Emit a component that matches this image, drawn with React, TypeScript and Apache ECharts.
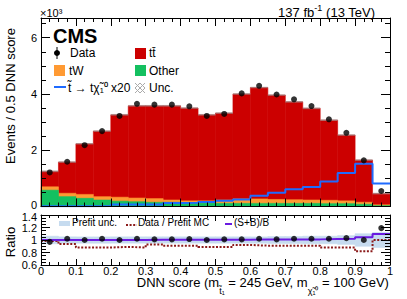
import React, { useEffect, useRef } from 'react';
import * as echarts from 'echarts';

// ---- data (event counts in units of 10^3) ----
const binEdges = [0, 0.05, 0.1, 0.15, 0.2, 0.25, 0.3, 0.35, 0.4, 0.45, 0.5, 0.55, 0.6, 0.65, 0.7, 0.75, 0.8, 0.85, 0.9, 0.95, 1];
const ttbar = [0.55, 1.11, 1.80, 2.33, 2.93, 3.28, 3.30, 3.35, 3.30, 3.06, 3.09, 3.73, 3.96, 3.71, 3.48, 3.26, 2.85, 2.34, 1.50, 0.40];
const tW = [0.12, 0.12, 0.14, 0.12, 0.14, 0.13, 0.13, 0.08, 0.07, 0.08, 0.12, 0.16, 0.16, 0.14, 0.13, 0.12, 0.12, 0.10, 0.07, 0.03];
const other = [0.58, 0.35, 0.29, 0.23, 0.19, 0.17, 0.15, 0.15, 0.13, 0.12, 0.11, 0.11, 0.11, 0.11, 0.11, 0.11, 0.10, 0.10, 0.08, 0.03];
const dataObs = [1.21, 1.59, 2.18, 2.68, 3.22, 3.65, 3.62, 3.62, 3.56, 3.22, 3.29, 4.02, 4.29, 3.98, 3.81, 3.57, 3.10, 2.62, 1.64, 0.55];
const signalX20 = [0.01, 0.01, 0.01, 0.02, 0.07, 0.07, 0.07, 0.12, 0.13, 0.16, 0.20, 0.25, 0.38, 0.49, 0.61, 0.69, 0.89, 1.19, 1.52, 0.82];
const mcUnc = [0.03, 0.03, 0.03, 0.03, 0.03, 0.03, 0.03, 0.03, 0.03, 0.03, 0.03, 0.03, 0.03, 0.03, 0.03, 0.03, 0.03, 0.03, 0.03, 0.03];

const ratioData = [0.97, 1.02, 1.0, 1.02, 1.0, 1.02, 1.01, 1.01, 1.015, 1.0, 1.01, 1.01, 1.02, 1.01, 1.02, 1.02, 1.02, 1.03, 1.0, 1.19];
const prefitRatio = [0.985, 0.935, 0.88, 0.88, 0.89, 0.88, 0.93, 0.91, 0.91, 0.89, 0.89, 0.92, 0.91, 0.91, 0.91, 0.91, 0.88, 0.88, 0.82, 1.0];
const sbRatio = [1.0, 1.0, 1.0, 1.0, 1.0, 1.0, 1.005, 1.005, 1.005, 1.005, 1.005, 1.005, 1.01, 1.01, 1.01, 1.01, 1.015, 1.02, 1.045, 1.095];
const prefitUnc = [0.06, 0.05, 0.05, 0.05, 0.05, 0.05, 0.05, 0.05, 0.05, 0.05, 0.05, 0.05, 0.05, 0.055, 0.055, 0.06, 0.06, 0.07, 0.10, 0.12];

const FONT = '"Liberation Sans", Arial, Helvetica, sans-serif';
const C_TT = '#cc0000';
const C_TW = '#ff9a33';
const C_OTHER = '#14c060';
const C_SIG = '#1f6bff';
const C_SB = '#6a1be0';
const C_PRE = '#8b1a1a';
const C_BAND = '#c6dbef';

function rectSeries(name: string, lows: number[], highs: number[], color: string, xi: number, yi: number, z: number, opacity = 1) {
  return {
    type: 'custom',
    name,
    xAxisIndex: xi,
    yAxisIndex: yi,
    z,
    silent: true,
    encode: { x: [0, 1], y: [2, 3] },
    data: highs.map((h, i) => [binEdges[i], binEdges[i + 1], lows[i], h]),
    renderItem: (_p: any, api: any) => {
      const a = api.coord([api.value(0), api.value(3)]);
      const b = api.coord([api.value(1), api.value(2)]);
      return {
        type: 'rect',
        shape: { x: a[0], y: a[1], width: b[0] - a[0], height: b[1] - a[1] },
        style: { fill: color, stroke: color, lineWidth: opacity < 1 ? 0 : 0.6, opacity },
      };
    },
  };
}

function stepSeries(vals: number[], color: string, xi: number, yi: number, width: number, type: any, z: number) {
  return {
    type: 'line',
    xAxisIndex: xi,
    yAxisIndex: yi,
    step: 'end',
    symbol: 'none',
    z,
    silent: true,
    data: binEdges.map((e, i) => [e, vals[Math.min(i, vals.length - 1)]]),
    lineStyle: { color, width, type },
  };
}

const zeros = binEdges.slice(0, -1).map(() => 0);
const centers = binEdges.slice(0, -1).map((e, i) => (e + binEdges[i + 1]) / 2);

function xAx(grid: number, pos: string, labels: boolean) {
  return {
    type: 'value', gridIndex: grid, position: pos, min: 0, max: 1, interval: 0.1, z: 10,
    axisLine: { show: true, onZero: false, lineStyle: { color: '#000', width: 1 } },
    axisTick: { show: true, inside: true, length: grid === 0 ? 8 : 6, lineStyle: { color: '#000' } },
    minorTick: { show: true, splitNumber: 4, length: grid === 0 ? 4 : 3, lineStyle: { color: '#000' } },
    axisLabel: { show: labels, color: '#000', fontSize: 11, fontFamily: FONT, margin: 0 },
    splitLine: { show: false },
  };
}

const labelRich = {
  lo: { fontSize: 11, fontFamily: FONT, color: '#000', padding: [0, 0, 3, 0] },
  hi: { fontSize: 11, fontFamily: FONT, color: '#000', padding: [3, 0, 0, 0] },
};

function yAx(grid: number, pos: string, labels: boolean, min: number, max: number, interval: number) {
  return {
    type: 'value', gridIndex: grid, position: pos, min, max, interval, z: 10,
    axisLine: { show: true, onZero: false, lineStyle: { color: '#000', width: 1 } },
    axisTick: { show: true, inside: true, length: 9, lineStyle: { color: '#000' } },
    minorTick: { show: true, splitNumber: 4, length: 5, lineStyle: { color: '#000' } },
    axisLabel: {
      show: labels, color: '#000', fontSize: 11, fontFamily: FONT, margin: 4, showMaxLabel: grid === 1,
      rich: labelRich,
      formatter: (v: number) => {
        const s = String(Math.round(v * 10) / 10);
        if (grid === 0 && Math.abs(v) < 1e-6) return '{lo|' + s + '}';
        if (grid === 1 && Math.abs(v - max) < 1e-6) return '{hi|' + s + '}';
        return s;
      },
    },
    splitLine: { show: false },
  };
}

export default function App() {
  const ref = useRef<HTMLDivElement>(null);
  useEffect(() => {
    if (!ref.current) return;
    const chart = echarts.init(ref.current, undefined, { renderer: 'svg' });
    const stackTop = ttbar.map((v, i) => v + tW[i] + other[i]);
    const orangeTop = tW.map((v, i) => v + other[i]);
    const bandLo = prefitUnc.map((u) => 1 - u);
    const bandHi = prefitUnc.map((u) => 1 + u);
    const txt = (text: string, x: number, y: number, size: number, extra: any = {}) => ({
      type: 'text', x, y, z: 20,
      style: { text, fontSize: size, fontFamily: FONT, fill: '#000', verticalAlign: 'middle', ...extra },
    });
    const option: any = {
      animation: false,
      backgroundColor: '#fff',
      grid: [
        { left: 41, top: 18, width: 349, height: 188.5 },
        { left: 41, top: 215, width: 349, height: 50 },
      ],
      xAxis: [xAx(0, 'bottom', false), xAx(0, 'top', false), xAx(1, 'bottom', true), xAx(1, 'top', false)],
      yAxis: [
        yAx(0, 'left', true, 0, 6.7, 2),
        yAx(0, 'right', false, 0, 6.7, 2),
        yAx(1, 'left', true, 0.6, 1.4, 0.2),
        yAx(1, 'right', false, 0.6, 1.4, 0.2),
      ],
      series: [
        rectSeries('ttbar', zeros, stackTop, C_TT, 0, 0, 1),
        rectSeries('tW', zeros, orangeTop, C_TW, 0, 0, 1),
        rectSeries('Other', zeros, other, C_OTHER, 0, 0, 1),
        rectSeries('Unc', stackTop.map((t, i) => t - mcUnc[i]), stackTop.map((t, i) => t + mcUnc[i]), '#9a9a9a', 0, 0, 2, 0.6),
        stepSeries(signalX20, C_SIG, 0, 0, 2, 'solid', 3),
        {
          type: 'scatter', xAxisIndex: 0, yAxisIndex: 0, z: 5, symbolSize: 6, silent: true,
          itemStyle: { color: '#000' },
          data: dataObs.map((v, i) => [centers[i], v]),
        },
        rectSeries('band', bandLo, bandHi, C_BAND, 2, 2, 1),
        stepSeries(prefitRatio, C_PRE, 2, 2, 2, [2, 1.6], 3),
        stepSeries(sbRatio, C_SB, 2, 2, 2, 'solid', 3),
        {
          type: 'scatter', xAxisIndex: 2, yAxisIndex: 2, z: 5, symbolSize: 6, silent: true,
          itemStyle: { color: '#000' },
          data: ratioData.map((v, i) => [centers[i], v]),
        },
      ],
      graphic: [
        txt('CMS', 53, 36, 20, { fontWeight: 'bold' }),
        txt('×10³', 40, 13, 11),
        {
          type: 'text', x: 375, y: 11, z: 20,
          style: {
            text: '{a|137 fb}{b|-1}{a| (13 TeV)}', align: 'right', verticalAlign: 'middle',
            rich: {
              a: { fontSize: 13, fontFamily: FONT, fill: '#000', lineHeight: 16, verticalAlign: 'bottom' },
              b: { fontSize: 9, fontFamily: FONT, fill: '#000', lineHeight: 9, verticalAlign: 'top' },
            },
          },
        },
        // y titles
        txt('Events / 0.5 DNN score', 10, 96, 13, { align: 'center' }),
        txt('Ratio', 10, 242, 13, { align: 'center' }),
        // x title
        {
          type: 'text', x: 390, y: 285.5, z: 20,
          style: {
            text: '{a|DNN score (m}{s|t̃₁}{a| = 245 GeV, m}{s|χ̃₁⁰}{a| = 100 GeV)}{z| }',
            align: 'right', verticalAlign: 'middle',
            rich: {
              a: { fontSize: 13, fontFamily: FONT, fill: '#000', lineHeight: 13, verticalAlign: 'top' },
              s: { fontSize: 9, fontFamily: FONT, fill: '#000', lineHeight: 9, verticalAlign: 'bottom' },
              z: { fontSize: 4, fontFamily: FONT, fill: '#000', lineHeight: 19, verticalAlign: 'top' },
            },
          },
        },
        // main legend
        { type: 'line', z: 20, shape: { x1: 57, y1: 47, x2: 57, y2: 59 }, style: { stroke: '#000', lineWidth: 1 } },
        { type: 'circle', z: 20, shape: { cx: 57, cy: 53, r: 3 }, style: { fill: '#000' } },
        txt('Data', 70, 53, 12),
        { type: 'rect', z: 20, shape: { x: 135, y: 48, width: 11, height: 11 }, style: { fill: C_TT } },
        txt('tt̄', 149, 53, 12),
        { type: 'rect', z: 20, shape: { x: 54, y: 65, width: 11, height: 11 }, style: { fill: C_TW } },
        txt('tW', 69, 71, 12),
        { type: 'rect', z: 20, shape: { x: 135, y: 65, width: 11, height: 11 }, style: { fill: C_OTHER } },
        txt('Other', 149, 71, 12),
        { type: 'line', z: 20, shape: { x1: 54, y1: 87, x2: 66, y2: 87 }, style: { stroke: C_SIG, lineWidth: 2 } },
        txt('t̃ → tχ̃₁⁰ x20', 68, 88, 12),
        { type: 'line', z: 20, shape: { x1: 135, y1: 88, x2: 140, y2: 83 }, style: { stroke: '#aaa', lineWidth: 1 } },
        { type: 'line', z: 20, shape: { x1: 140, y1: 83, x2: 145, y2: 88 }, style: { stroke: '#aaa', lineWidth: 1 } },
        { type: 'line', z: 20, shape: { x1: 145, y1: 88, x2: 140, y2: 93 }, style: { stroke: '#aaa', lineWidth: 1 } },
        { type: 'line', z: 20, shape: { x1: 140, y1: 93, x2: 135, y2: 88 }, style: { stroke: '#aaa', lineWidth: 1 } },
        { type: 'line', z: 20, shape: { x1: 135, y1: 83, x2: 145, y2: 93 }, style: { stroke: '#aaa', lineWidth: 1 } },
        { type: 'line', z: 20, shape: { x1: 145, y1: 83, x2: 135, y2: 93 }, style: { stroke: '#aaa', lineWidth: 1 } },
        txt('Unc.', 149, 88, 12),
        // ratio legend
        { type: 'rect', z: 20, shape: { x: 59, y: 221, width: 11, height: 5 }, style: { fill: C_BAND } },
        txt('Prefit unc.', 72, 222, 10),
        { type: 'line', z: 20, shape: { x1: 126, y1: 225, x2: 137, y2: 225 }, style: { stroke: C_PRE, lineWidth: 2, lineDash: [2, 1.6] } },
        txt('Data / Prefit MC', 138, 222, 10),
        { type: 'line', z: 20, shape: { x1: 225, y1: 224, x2: 232, y2: 224 }, style: { stroke: C_SB, lineWidth: 2 } },
        txt('(S+B)/B', 234, 222, 10),
      ],
    };
    // rotate y titles
    option.graphic[3].rotation = Math.PI / 2;
    option.graphic[4].rotation = Math.PI / 2;
    chart.setOption(option);
    return () => chart.dispose();
  }, []);
  return <div ref={ref} style={{ position: 'fixed', left: 0, top: 0, width: 407, height: 299 }} />;
}
